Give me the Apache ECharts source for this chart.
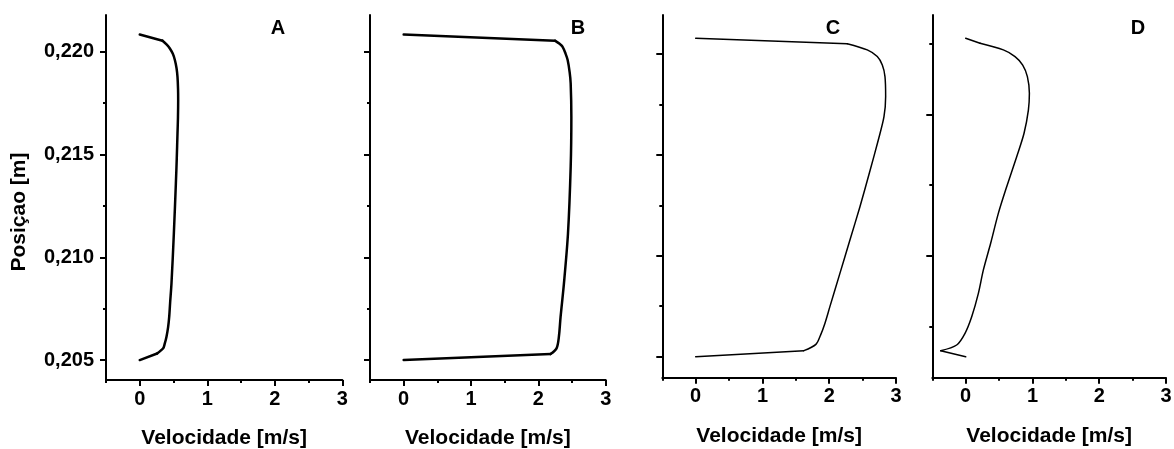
<!DOCTYPE html>
<html>
<head>
<meta charset="utf-8">
<script src="https://cdn.jsdelivr.net/npm/echarts@6/dist/echarts.min.js"></script>
<style>
  html, body { margin: 0; padding: 0; background: #fff; }
  #chart { width: 1174px; height: 449px; }
</style>
</head>
<body>
<div id="chart"></div>
<script>
// Velocity profiles across the channel, four cases A-D
const panelNames = ['A', 'B', 'C', 'D'];

const velA = [0, 0.337, 0.40, 0.446, 0.49, 0.52, 0.545, 0.559, 0.567, 0.569, 0.566, 0.559, 0.548, 0.535, 0.505, 0.47, 0.45, 0.436, 0.42, 0.396, 0.37, 0.347, 0.257, 0];
const posA = [0.22084, 0.22054, 0.22035, 0.22016, 0.2199, 0.2196, 0.2192, 0.21878, 0.2182, 0.21765, 0.2168, 0.21603, 0.2148, 0.2136, 0.21116, 0.20873, 0.2078, 0.2071, 0.2066, 0.20614, 0.2058, 0.20557, 0.20532, 0.205];

const velB = [0, 2.246, 2.31, 2.36, 2.405, 2.435, 2.465, 2.48, 2.49, 2.48, 2.44, 2.38, 2.33, 2.305, 2.27, 2.18, 0];
const posB = [0.22084, 0.22054, 0.2204, 0.22024, 0.2199, 0.2196, 0.2190, 0.21846, 0.21684, 0.2144, 0.21116, 0.20873, 0.2071, 0.20614, 0.20557, 0.20529, 0.205];

const velC = [0, 2.27, 2.57, 2.72, 2.795, 2.835, 2.845, 2.82, 2.735, 2.6, 2.46, 2.31, 2.16, 2.01, 1.935, 1.87, 1.8, 1.62, 0];
const posC = [0.22078, 0.22051, 0.2202, 0.21987, 0.21945, 0.21888, 0.21789, 0.21689, 0.21574, 0.21409, 0.21243, 0.21078, 0.20913, 0.20748, 0.20665, 0.20607, 0.20561, 0.2053, 0.205];

const velD = [0, 0.215, 0.564, 0.739, 0.854, 0.924, 0.954, 0.939, 0.874, 0.764, 0.614, 0.489, 0.374, 0.265, 0.19, 0.09, -0.01, -0.135, -0.374, 0];
const posD = [0.22078, 0.22053, 0.2202, 0.21987, 0.21945, 0.21888, 0.21805, 0.21722, 0.21607, 0.21491, 0.21342, 0.2121, 0.21062, 0.2093, 0.20814, 0.20698, 0.20616, 0.20558, 0.2053, 0.205];

// Axis ranges and tick values
const velMin = -0.5, velMax = 3;
const velMajorTicks = [0, 1, 2, 3];
const velMinorTicks = [-0.5, 0.5, 1.5, 2.5];
const posRangeAB = [0.20403, 0.22179];
const posRangeCD = [0.20396, 0.22193];
const posMajorTicks = [0.205, 0.210, 0.215, 0.220];
const posMinorTicks = [0.2075, 0.2125, 0.2175];
const posMajorTicksD = [0.210, 0.217];
const posMinorTicksD = [0.2065, 0.2135, 0.2205];

const xTitle = 'Velocidade [m/s]';
const yTitle = 'Posiçao [m]';

const FONT = 'Arial, "Liberation Sans", Helvetica, sans-serif';

const velSets = [velA, velB, velC, velD];
const posSets = [posA, posB, posC, posD];

// grid boxes (pixels)
const grids = [
  { left: 106,   top: 15, width: 236.3, height: 365 },
  { left: 370,   top: 15, width: 235.7, height: 365 },
  { left: 662.3, top: 15, width: 233.7, height: 362.7 },
  { left: 932.3, top: 15, width: 233.7, height: 362.7 }
];
const lineWidths = [2.5, 2.5, 1.5, 1.5];
const posRanges = [posRangeAB, posRangeAB, posRangeCD, posRangeCD];

const xAxes = [], yAxes = [], series = [];

grids.forEach((g, i) => {
  const isD = i === 3;
  const majors = isD ? posMajorTicksD : posMajorTicks;
  const minors = isD ? posMinorTicksD : posMinorTicks;
  // main x axis: line, labels, long ticks
  xAxes.push({
    type: 'value', gridIndex: i, position: 'bottom', min: velMin, max: velMax,
    name: xTitle, nameLocation: 'middle', nameGap: 48,
    nameTextStyle: { fontFamily: FONT, fontWeight: 'bold', fontSize: 21, color: '#000' },
    axisLine: { show: true, onZero: false, lineStyle: { color: '#000', width: 2 } },
    axisTick: { show: true, inside: false, length: 6, customValues: velMajorTicks, lineStyle: { color: '#000', width: 2 } },
    axisLabel: { show: true, margin: 9, customValues: velMajorTicks, fontFamily: FONT, fontWeight: 'bold', fontSize: 20, color: '#000' },
    splitLine: { show: false }
  });
  // half-step x ticks
  xAxes.push({
    type: 'value', gridIndex: i, position: 'bottom', min: velMin, max: velMax,
    axisLine: { show: false, onZero: false },
    axisTick: { show: true, length: 3, customValues: velMinorTicks, lineStyle: { color: '#000', width: 2 } },
    axisLabel: { show: false },
    splitLine: { show: false }
  });
  yAxes.push({
    type: 'value', gridIndex: i, position: 'left', min: posRanges[i][0], max: posRanges[i][1],
    axisLine: { show: true, onZero: false, lineStyle: { color: '#000', width: 2 } },
    axisTick: { show: true, length: 6, customValues: majors, lineStyle: { color: '#000', width: 2 } },
    axisLabel: {
      show: i === 0, margin: 12, customValues: majors,
      fontFamily: FONT, fontWeight: 'bold', fontSize: 20, color: '#000',
      formatter: v => v.toFixed(3).replace('.', ',')
    },
    splitLine: { show: false }
  });
  yAxes.push({
    type: 'value', gridIndex: i, position: 'left', min: posRanges[i][0], max: posRanges[i][1],
    axisLine: { show: false, onZero: false },
    axisTick: { show: true, length: 3, customValues: minors, lineStyle: { color: '#000', width: 2 } },
    axisLabel: { show: false },
    splitLine: { show: false }
  });

  // profile: straight wall segments at both ends, smoothed core in between
  const pts = velSets[i].map((v, k) => [v, posSets[i][k]]);
  const n = pts.length;
  const pieces = [
    { data: pts.slice(0, 2), smooth: false },
    { data: pts.slice(1, n - 1), smooth: 0.3 },
    { data: pts.slice(n - 2), smooth: false }
  ];
  pieces.forEach(p => {
    series.push({
      type: 'line', xAxisIndex: i * 2, yAxisIndex: i * 2,
      data: p.data, showSymbol: false, symbol: 'none', smooth: p.smooth, silent: true,
      lineStyle: { color: '#000', width: lineWidths[i], join: 'round', cap: 'round' },
      animation: false
    });
  });
});

const letterX = [278, 578, 833, 1138];
const titles = panelNames.map((n, i) => ({
  text: n, left: letterX[i], top: 18, textAlign: 'center',
  textStyle: { fontFamily: FONT, fontWeight: 'bold', fontSize: 20, color: '#000' },
  padding: 0
}));

const chart = echarts.init(document.getElementById('chart'), null, { renderer: 'canvas' });
chart.setOption({
  animation: false,
  backgroundColor: '#fff',
  title: titles,
  grid: grids.map(g => Object.assign({ containLabel: false, outerBoundsMode: 'none' }, g)),
  xAxis: xAxes,
  yAxis: yAxes,
  series: series,
  graphic: [{
    type: 'text', x: 19, y: 212, rotation: Math.PI / 2, silent: true,
    style: {
      text: yTitle, fill: '#000', align: 'center', verticalAlign: 'middle',
      font: 'bold 21px ' + FONT
    }
  }]
});
</script>
</body>
</html>
